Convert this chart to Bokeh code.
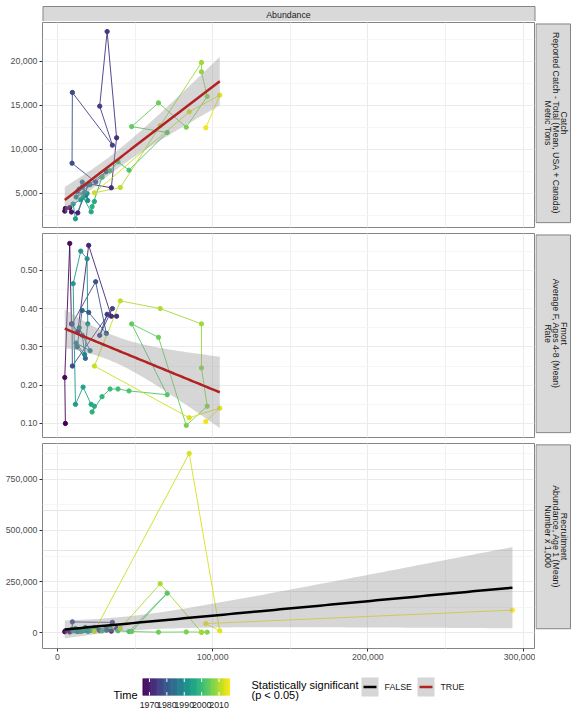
import numpy as np
from math import pi
from bokeh.plotting import figure
from bokeh.layouts import column, row
from bokeh.models import Range1d, FixedTicker, NumeralTickFormatter, LinearAxis, Grid
from bokeh.palettes import Viridis256
from bokeh.core.properties import value
from bokeh.embed import file_html
from bokeh.resources import INLINE

# ---------------- data ----------------
years = list(range(1966, 2017))
abundance = [5100, 4700, 7900, 9000, 13100, 20100, 34700, 38100, 32000, 27200,
             35400, 9600, 9400, 24600, 31500, 20100, 15900, 12700, 18000, 16000,
             14000, 21000, 12000, 17500, 19500, 19100, 15000, 10100, 11600, 16500,
             21700, 23800, 22300, 28700, 33900, 39000, 46100, 70700, 47800, 65100,
             83000, 96500, 92800, 92800, 66200, 40500, 23800, 84900, 104600, 95600,
             293200]
# catch and fmort: 1966-2015
catch = [3300, 3000, 3400, 2900, 2800, 6100, 5650, 11330, 23400, 14920,
         10490, 16480, 8440, 6300, 7500, 6000, 5700, 5200, 4800, 6300,
         5500, 6000, 4600, 5100, 4200, 5000, 4300, 3800, 2120, 4580,
         2920, 4090, 3500, 6850, 7580, 8600, 7650, 11930, 12600, 15300,
         12530, 16020, 18830, 19890, 12700, 5680, 5080, 14280, 16170, 12470]
fmort = [0.10, 0.22, 0.57, 0.36, 0.34, 0.565, 0.38, 0.38, 0.385, 0.33,
         0.40, 0.25, 0.36, 0.47, 0.335, 0.39, 0.395, 0.30, 0.27, 0.33,
         0.35, 0.29, 0.31, 0.28, 0.36, 0.53, 0.55, 0.465, 0.15, 0.195,
         0.15, 0.145, 0.13, 0.17, 0.19, 0.19, 0.185, 0.175, 0.36, 0.325,
         0.095, 0.145, 0.245, 0.36, 0.40, 0.42, 0.25, 0.115, 0.14, 0.105]
# recruitment: 1966-2016
recruit = [8000, 4000, 3000, 12000, 6000, 9000, 7000, 20000, 15000, 10000,
           50000, 52000, 15000, 20000, 12000, 10000, 8000, 12000, 25000, 15000,
           9000, 18000, 7000, 11000, 6000, 10000, 6000, 8000, 20000, 15000,
           10000, 25000, 12000, 8000, 29000, 9000, 5000, 193000, 5000, 2000,
           3000, 2000, 1000, 2000, 239000, 20000, 6500, 877000, 8000, 44000, 110000]
significant = [True, True, False]

x_ticks = [0, 100000, 200000, 300000]
catch_ticks = [5000, 10000, 15000, 20000]
fmort_ticks = [0.1, 0.2, 0.3, 0.4, 0.5]
recruit_ticks = [0, 250000, 500000, 750000]
colorbar_labels = [1970, 1980, 1990, 2000, 2010]
strip_top = "Abundance"
strip_labels = [["Catch", "Reported Catch - Total (Mean, USA + Canada)", "Metric Tons"],
                ["Fmort", "Average F, Ages 4-8 (Mean)", "Rate"],
                ["Recruitment", "Abundance, Age 1 (Mean)", "Number x 1,000"]]
legend_title = ["Statistically significant", "(p < 0.05)"]
legend_items = ["FALSE", "TRUE"]

# ---------------- style ----------------
FONT = "Liberation Sans"
YEAR_MIN, YEAR_MAX = 1966, 2016
BORDER = "#858585"
STRIP_FILL = "#d9d9d9"
X_RANGE = (-9650, 307400)


def year_color(y):
    return Viridis256[int(round((y - YEAR_MIN) / (YEAR_MAX - YEAR_MIN) * 255))]


def minor_of(ticks):
    step = ticks[1] - ticks[0]
    return [t - step / 2 for t in ticks] + [ticks[-1] + step / 2]


def lm_band(x, y, n=80):
    x = np.asarray(x, float)
    y = np.asarray(y, float)
    b, a = np.polyfit(x, y, 1)
    xs = np.linspace(x.min(), x.max(), n)
    fit = a + b * xs
    resid = y - (a + b * x)
    dof = len(x) - 2
    s = np.sqrt((resid ** 2).sum() / dof)
    sxx = ((x - x.mean()) ** 2).sum()
    se = s * np.sqrt(1 / len(x) + (xs - x.mean()) ** 2 / sxx)
    t = 2.01
    return xs, fit, fit - t * se, fit + t * se


def make_panel(x, y, yrs, y_range, yticks, fmt, sig, height, top, bottom, show_x):
    p = figure(width=535, height=height, x_range=Range1d(*X_RANGE), y_range=Range1d(*y_range),
               output_backend="svg", toolbar_location=None,
               x_axis_location=None, y_axis_location=None,
               min_border_left=42, min_border_right=1, min_border_top=top, min_border_bottom=bottom)
    p.outline_line_color = BORDER
    p.outline_line_width = 1
    p.background_fill_color = "white"
    p.border_fill_color = "white"

    p.add_layout(Grid(dimension=0, ticker=FixedTicker(ticks=x_ticks, minor_ticks=minor_of(x_ticks)),
                      grid_line_color="#ebebeb", grid_line_width=1.1,
                      minor_grid_line_color="#f4f4f4", minor_grid_line_width=0.8))
    p.add_layout(Grid(dimension=1, ticker=FixedTicker(ticks=yticks, minor_ticks=minor_of(yticks)),
                      grid_line_color="#ebebeb", grid_line_width=1.1,
                      minor_grid_line_color="#f4f4f4", minor_grid_line_width=0.8))

    axis_style = dict(axis_line_color=None, major_tick_line_color="#333333", major_tick_in=0,
                      major_tick_out=3, minor_tick_line_color=None, major_label_text_font=FONT,
                      major_label_text_font_size="8.8px", major_label_text_color="#4d4d4d",
                      major_label_standoff=2)
    ya = LinearAxis(ticker=FixedTicker(ticks=yticks), formatter=NumeralTickFormatter(format=fmt), **axis_style)
    p.add_layout(ya, "left")
    if show_x:
        xa = LinearAxis(ticker=FixedTicker(ticks=x_ticks), formatter=NumeralTickFormatter(format="0,0"),
                        **axis_style)
        p.add_layout(xa, "below")

    cols = [year_color(v) for v in yrs]
    p.segment(x0=x[:-1], y0=y[:-1], x1=x[1:], y1=y[1:], line_color=cols[:-1], line_width=0.9)
    p.scatter(x=x, y=y, size=4.3, fill_color=cols, line_color=cols)

    xs, fit, lo, hi = lm_band(x, y)
    p.varea(x=xs, y1=lo, y2=hi, fill_color="#999999", fill_alpha=0.4)
    p.line(x=xs, y=fit, line_color="#b22222" if sig else "black", line_width=2.5)
    return p


def make_strip(lines, height, top, frame_h):
    s = figure(width=41, height=height, x_range=Range1d(0, 41), y_range=Range1d(height, 0),
               output_backend="svg", toolbar_location=None, min_border=0,
               x_axis_location=None, y_axis_location=None, outline_line_color=None)
    s.grid.visible = False
    s.quad(left=0.5, right=35, top=top + 0.5, bottom=top + frame_h, fill_color=STRIP_FILL,
           line_color=BORDER, line_width=1)
    cy = top + frame_h / 2
    for i, t in enumerate(lines):
        s.text(x=[28.5 - 8.2 * i], y=[cy], text=[t], angle=-pi / 2, text_align="center",
               text_baseline="middle", text_font=value(FONT), text_font_size=value("8.8px"),
               text_color="#1a1a1a")
    return s


# ---------------- top strip ----------------
top_strip = figure(width=576, height=21, x_range=Range1d(0, 576), y_range=Range1d(21, 0),
                   output_backend="svg", toolbar_location=None, min_border=0,
                   x_axis_location=None, y_axis_location=None, outline_line_color=None)
top_strip.grid.visible = False
top_strip.quad(left=42.5, right=534.5, top=6, bottom=21.5, fill_color=STRIP_FILL, line_color=BORDER)
top_strip.text(x=[288], y=[14], text=[strip_top], text_align="center", text_baseline="middle",
               text_font=value(FONT), text_font_size=value("8.8px"), text_color="#1a1a1a")

n_cf = len(catch)
p1 = make_panel(abundance[:n_cf], catch, years[:n_cf], (1136, 24430), catch_ticks, "0,0",
                significant[0], 211, 1, 5, False)
s1 = make_strip(strip_labels[0], 211, 1, 205)
p2 = make_panel(abundance[:n_cf], fmort, years[:n_cf], (0.0634, 0.596), fmort_ticks, "0.00",
                significant[1], 210, 1, 5, False)
s2 = make_strip(strip_labels[1], 210, 1, 204)
p3 = make_panel(abundance, recruit, years, (-78000, 926000), recruit_ticks, "0,0",
                significant[2], 228, 1, 22, True)
s3 = make_strip(strip_labels[2], 228, 1, 205)

# ---------------- legend ----------------
lg = figure(width=576, height=50, x_range=Range1d(0, 576), y_range=Range1d(50, 0),
            output_backend="svg", toolbar_location=None, min_border=0,
            x_axis_location=None, y_axis_location=None, outline_line_color=None)
lg.grid.visible = False
CB_L, CB_R, CB_T, CB_B = 142, 229, 8, 25
nstep = 100
edges = np.linspace(YEAR_MIN, YEAR_MAX, nstep + 1)
to_px = lambda yv: CB_L + (yv - YEAR_MIN) / (YEAR_MAX - YEAR_MIN) * (CB_R - CB_L)
lg.quad(left=[to_px(e) for e in edges[:-1]], right=[to_px(e) + 0.6 for e in edges[1:]],
        top=CB_T, bottom=CB_B, fill_color=[year_color((a + b) / 2) for a, b in zip(edges[:-1], edges[1:])],
        line_color=None)
tx = [to_px(v) for v in colorbar_labels]
lg.segment(x0=tx, x1=tx, y0=CB_T, y1=CB_T + 3.5, line_color="white", line_width=1)
lg.segment(x0=tx, x1=tx, y0=CB_B - 3.5, y1=CB_B, line_color="white", line_width=1)
lg.text(x=tx, y=34, text=[str(v) for v in colorbar_labels], text_align="center", text_baseline="middle",
        text_font=value(FONT), text_font_size=value("8.8px"), text_color="#1a1a1a")
lg.text(x=[137], y=[24], text=["Time"], text_align="right", text_baseline="middle",
        text_font=value(FONT), text_font_size=value("11px"), text_color="black")
lg.text(x=[251, 251], y=[14, 24.5], text=legend_title, text_align="left", text_baseline="middle",
        text_font=value(FONT), text_font_size=value("11px"), text_color="black")
key_l = [361, 417]
lg.quad(left=key_l, right=[k + 17 for k in key_l], top=7, bottom=26, fill_color="#d6d6d6", line_color=None)
lg.segment(x0=[k + 2 for k in key_l], x1=[k + 15 for k in key_l], y0=16.5, y1=16.5,
           line_color=["black", "#b22222"], line_width=2.5)
lg.text(x=[k + 23 for k in key_l], y=16.5, text=legend_items, text_align="left", text_baseline="middle",
        text_font=value(FONT), text_font_size=value("8.8px"), text_color="#1a1a1a")

layout = column(top_strip,
                row(p1, s1, spacing=0),
                row(p2, s2, spacing=0),
                row(p3, s3, spacing=0),
                lg, spacing=0)

open("out.html", "w").write(file_html(layout, INLINE))
